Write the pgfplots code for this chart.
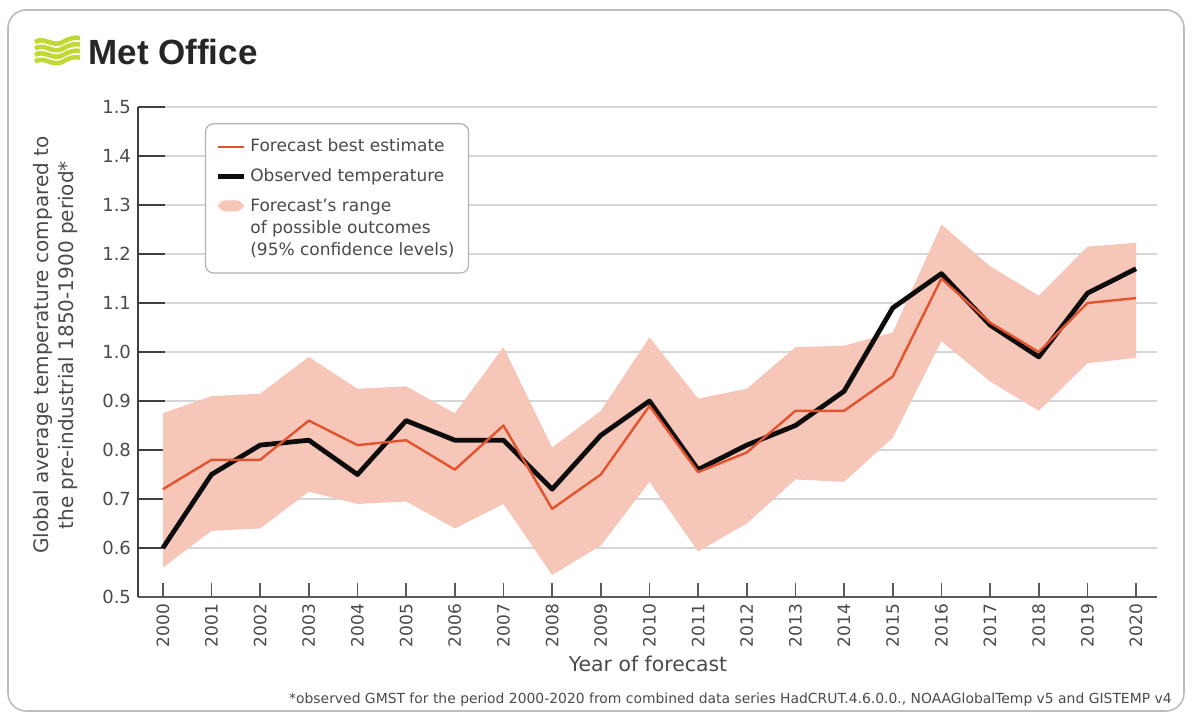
\documentclass[border=0pt]{standalone}
\usepackage{pgfplots}
\pgfplotsset{compat=1.18}
\usepackage{pgfplotstable}
\usepgfplotslibrary{fillbetween}
\usepackage{fontspec}
\setmainfont{DejaVu Sans}
\newfontfamily\logofont{Liberation Sans}

\definecolor{fcred}{HTML}{E2532E}
\definecolor{bandc}{HTML}{F6C6B8}
\definecolor{txt}{HTML}{4A4A4A}
\definecolor{gridc}{HTML}{D6D6D6}
\definecolor{axc}{HTML}{5A5A5A}
\definecolor{logogreen}{HTML}{C0D935}
\definecolor{framec}{HTML}{BDBDBD}

\pgfplotsset{
  shortline/.style={legend image code/.code={\draw[##1] (0pt,0pt) -- (13pt,0pt);}},
  % square drawn level with the first of the three lines
  shortbox/.style={legend image code/.code={\fill[##1] (0pt,8.5pt) rectangle (13pt,14pt);}},
}

% observed, forecast best estimate, 95% range (lo/hi)
\pgfplotstableread{
year obs   fc    lo    hi
2000 0.60  0.72  0.56  0.875
2001 0.75  0.78  0.635 0.91
2002 0.81  0.78  0.64  0.915
2003 0.82  0.86  0.715 0.99
2004 0.75  0.81  0.69  0.925
2005 0.86  0.82  0.695 0.93
2006 0.82  0.76  0.64  0.875
2007 0.82  0.85  0.69  1.01
2008 0.72  0.68  0.545 0.805
2009 0.83  0.75  0.605 0.88
2010 0.90  0.89  0.735 1.03
2011 0.76  0.755 0.593 0.905
2012 0.81  0.795 0.65  0.925
2013 0.85  0.88  0.74  1.01
2014 0.92  0.88  0.735 1.013
2015 1.09  0.95  0.825 1.04
2016 1.16  1.15  1.022 1.26
2017 1.055 1.06  0.94  1.175
2018 0.99  1.00  0.88  1.115
2019 1.12  1.10  0.977 1.215
2020 1.17  1.11  0.988 1.223
}\temps

\begin{document}
\begin{tikzpicture}
\begin{scope}[x=0.5pt,y=-0.5pt]
  \useasboundingbox (0,0) rectangle (1192,714);
  \draw[framec, line width=0.8pt, rounded corners=9pt] (8,10) rectangle (1184,711);
  % logo
  \foreach \i in {0,1,2,3} {
    \draw[logogreen, line width=2.3pt]
      (35,{42+6.5*\i}) .. controls (44,{36+6.5*\i}) and (53,{48+6.5*\i}) .. (63,{42+6.5*\i})
      .. controls (70,{38+6.5*\i}) and (75,{37+6.5*\i}) .. (80,{38+6.5*\i});
  }
  \node[anchor=west, inner sep=0pt, text=black!85] at (88,52)
    {\logofont\bfseries\fontsize{17.5}{18}\selectfont Met Office};
  \node[anchor=east, inner sep=0pt, text=txt] at (1172,700)
    {\fontsize{6.95}{8}\selectfont *observed GMST for the period 2000-2020 from combined data series HadCRUT.4.6.0.0., NOAAGlobalTemp v5 and GISTEMP v4};
\end{scope}

\begin{axis}[
    at={(69pt,-298.5pt)}, anchor=south west,
    scale only axis, width=509.5pt, height=245pt,
    xmin=1999.49, xmax=2020.43, ymin=0.5, ymax=1.5,
    axis x line*=bottom, axis y line*=left,
    x axis line style={-, draw=axc, line width=0.8pt},
    y axis line style={-, draw=black!75, line width=1pt},
    xtick={2000,...,2020},
    xticklabels={2000,2001,2002,2003,2004,2005,2006,2007,2008,2009,2010,2011,2012,2013,2014,2015,2016,2017,2018,2019,2020},
    ytick={0.5,0.6,0.7,0.8,0.9,1.0,1.1,1.2,1.3,1.4,1.5},
    yticklabels={0.5,0.6,0.7,0.8,0.9,1.0,1.1,1.2,1.3,1.4,1.5},
    tick align=inside, major tick length=13.5pt,
    x tick style={draw=none},
    y tick style={draw=black!75, line width=1pt},
    ymajorgrids, grid style={gridc, line width=0.6pt},
    yticklabel style={font=\fontsize{9}{10}\selectfont, text=txt},
    xticklabel style={font=\fontsize{8.5}{10}\selectfont, text=txt, rotate=90, anchor=east},
    xlabel={Year of forecast},
    xlabel style={font=\fontsize{10.2}{12}\selectfont, text=txt,
      at={(axis description cs:0.5005,-0.1367)}, anchor=center},
    ylabel={Global average temperature compared to\\the pre-industrial 1850-1900 period*},
    ylabel style={font=\fontsize{10}{12.5}\selectfont, text=txt, align=center,
      at={(axis description cs:-0.0805,0.514)}, anchor=center},
    legend style={at={(axis description cs:0.0657,0.967)}, anchor=north west,
      draw=black!30, rounded corners=4pt, line width=0.6pt,
      font=\fontsize{8.5}{11}\selectfont, text=txt,
      inner xsep=5pt, inner ysep=5.5pt, row sep=3pt, cells={align=left}},
    legend cell align=left, reverse legend,
]
\addplot[name path=hi, draw=none, forget plot] table[x=year, y=hi] {\temps};
\addplot[name path=lo, draw=none, forget plot] table[x=year, y=lo] {\temps};
\addplot[bandc, draw=none, area legend, shortbox] fill between[of=hi and lo];
\addlegendentry{Forecast's range\\of possible outcomes\\(95\% confidence levels)}

% small x tick marks
\addplot[ycomb, draw=axc, line width=0.8pt, mark=none, forget plot] coordinates {
(2000,0.5286) (2001,0.5286) (2002,0.5286) (2003,0.5286) (2004,0.5286) (2005,0.5286)
(2006,0.5286) (2007,0.5286) (2008,0.5286) (2009,0.5286) (2010,0.5286) (2011,0.5286)
(2012,0.5286) (2013,0.5286) (2014,0.5286) (2015,0.5286) (2016,0.5286) (2017,0.5286)
(2018,0.5286) (2019,0.5286) (2020,0.5286)};

\addplot[draw=black!95, line width=2.4pt, line join=round, mark=none, shortline]
  table[x=year, y=obs] {\temps};
\addlegendentry{Observed temperature}

\addplot[draw=fcred, line width=1.2pt, line join=round, mark=none, shortline]
  table[x=year, y=fc] {\temps};
\addlegendentry{Forecast best estimate}
\end{axis}
\end{tikzpicture}
\end{document}
